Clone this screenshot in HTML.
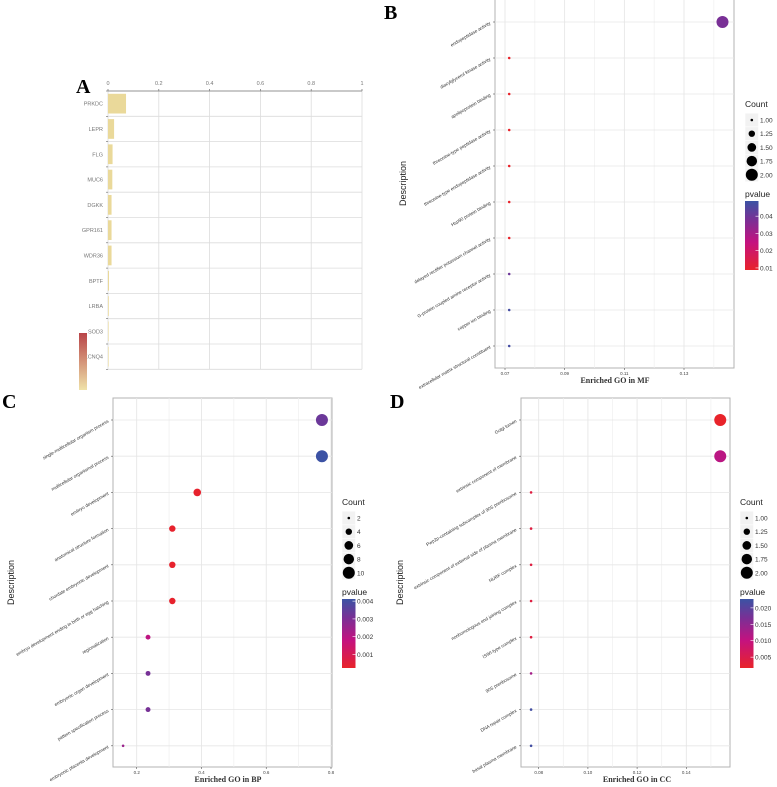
<!DOCTYPE html>
<html><head><meta charset="utf-8">
<style>
html,body{margin:0;padding:0;background:#fff;}
svg{display:block;font-family:"Liberation Sans",sans-serif;}
.pl{font-family:"Liberation Serif",serif;font-weight:bold;}
</style></head>
<body>
<svg id="fig" width="777" height="787" viewBox="0 0 777 787" xmlns="http://www.w3.org/2000/svg">
<defs>
<linearGradient id="pg" x1="0" y1="1" x2="0" y2="0">
<stop offset="0" stop-color="#e8232a"/><stop offset="0.4" stop-color="#c4127f"/><stop offset="0.72" stop-color="#7b2f95"/><stop offset="1" stop-color="#3b53a4"/>
</linearGradient>
<linearGradient id="ag" x1="0" y1="0" x2="0" y2="1">
<stop offset="0" stop-color="#b84448"/><stop offset="1" stop-color="#efe2a8"/>
</linearGradient>
</defs>
<text class="pl" x="76" y="93" font-size="20">A</text>
<text class="pl" x="384" y="19" font-size="20">B</text>
<text class="pl" x="2" y="408" font-size="20">C</text>
<text class="pl" x="390" y="408" font-size="20">D</text>
<g id="root"></g>
</svg>
<script>
const NS="http://www.w3.org/2000/svg";
// Panel A data
const aGenes=["PRKDC","LEPR","FLG","MUC6","DGKK","GPR161","WDR36","BPTF","LRBA","SOD3","KCNQ4"];
const aValues=[0.071,0.024,0.018,0.017,0.014,0.014,0.014,0.004,0.003,0.002,0.002];
const aTicks=[0,0.2,0.4,0.6,0.8,1];
// Panel B data
const bTerms=["endopeptidase activity","diacylglycerol kinase activity","apolipoprotein binding","threonine-type peptidase activity","threonine-type endopeptidase activity","Hsp90 protein binding","delayed rectifier potassium channel activity","G-protein coupled amine receptor activity","copper ion binding","extracellular matrix structural constituent"];
const bRatio=[0.1429,0.0714,0.0714,0.0714,0.0714,0.0714,0.0714,0.0714,0.0714,0.0714];
const bCount=[2,1,1,1,1,1,1,1,1,1];
const bP=[0.038,0.009,0.009,0.009,0.009,0.009,0.009,0.040,0.047,0.047];
const bTicks=[0.07,0.09,0.11,0.13];
const bTickLabels=["0.07","0.09","0.11","0.13"];
const bCountLeg=["1.00","1.25","1.50","1.75","2.00"];
const bPLeg=["0.04","0.03","0.02","0.01"];
// Panel C data
const cTerms=["single-multicellular organism process","multicellular organismal process","embryo development","anatomical structure formation","chordate embryonic development","embryo development ending in birth or egg hatching","regionalization","embryonic organ development","pattern specification process","embryonic placenta development"];
const cRatio=[0.772,0.772,0.387,0.31,0.31,0.31,0.235,0.235,0.235,0.158];
const cCount=[10,10,5,4,4,4,3,3,3,2];
const cP=[0.0033,0.0041,0.0003,0.0003,0.0003,0.0003,0.0019,0.0031,0.0031,0.0025];
const cTicks=[0.2,0.4,0.6,0.8];
const cTickLabels=["0.2","0.4","0.6","0.8"];
const cCountLeg=["2","4","6","8","10"];
const cPLeg=["0.004","0.003","0.002","0.001"];
// Panel D data
const dTerms=["Golgi lumen","extrinsic component of membrane","Pwp2p-containing subcomplex of 90S preribosome","extrinsic component of external side of plasma membrane","NURF complex","nonhomologous end joining complex","ISWI-type complex","90S preribosome","DNA repair complex","basal plasma membrane"];
const dRatio=[0.1538,0.1538,0.0769,0.0769,0.0769,0.0769,0.0769,0.0769,0.0769,0.0769];
const dCount=[2,2,1,1,1,1,1,1,1,1];
const dP=[0.0017,0.011,0.004,0.004,0.004,0.004,0.004,0.013,0.022,0.022];
const dTicks=[0.08,0.10,0.12,0.14];
const dTickLabels=["0.08","0.10","0.12","0.14"];
const dCountLeg=["1.00","1.25","1.50","1.75","2.00"];
const dPLeg=["0.020","0.015","0.010","0.005"];

const root=document.getElementById('root');
function mk(tag,attrs,parent){const e=document.createElementNS(NS,tag);for(const k in attrs)e.setAttribute(k,attrs[k]);(parent||root).appendChild(e);return e;}
function lerp(a,b,t){return a+(b-a)*t;}
const stops=[[0,[232,35,42]],[0.4,[196,18,127]],[0.72,[123,47,149]],[1,[59,83,164]]];
function pcol(t){t=Math.max(0,Math.min(1,t));for(let i=1;i<stops.length;i++){if(t<=stops[i][0]){const s=stops[i-1],e=stops[i];const u=(t-s[0])/(e[0]-s[0]);return 'rgb('+s[1].map((v,j)=>Math.round(lerp(v,e[1][j],u))).join(',')+')';}}return 'rgb(59,83,164)';}

// ---- Panel A ----
(function(){
const x0=108,x1=362,top=91,rh=25.3;
const xs=v=>x0+(x1-x0)*v;
const g=mk('g',{});


const n=aGenes.length,bot=top+rh*n;
aTicks.forEach(t=>{
 const l=mk('line',{x1:xs(t),x2:xs(t),y1:top,y2:bot,stroke:'#dcdcdc','stroke-width':0.8},g);
 
 
 const tx=mk('text',{x:xs(t),y:top-6,'font-size':5.5,fill:'#777','text-anchor':'middle'},g);
 
 
 tx.textContent=String(t);
 mk('line',{x1:xs(t),x2:xs(t),y1:top-2,y2:top,stroke:'#666','stroke-width':0.7},g);
});
for(let i=0;i<=n;i++){
 const y=top+rh*i;
 const l=mk('line',{x1:x0,x2:x1,y1:y,y2:y,stroke:'#dcdcdc','stroke-width':0.8},g);
 
 
 mk('line',{x1:x0-2,x2:x0,y1:y,y2:y,stroke:'#666','stroke-width':0.6},g);
}
const ax=mk('line',{x1:x0,x2:x1,y1:top,y2:top,stroke:'#777','stroke-width':0.8},g);


aGenes.forEach((gn,i)=>{
 const yc=top+rh*(i+0.5);
 const r=mk('rect',{x:x0,y:yc-rh*0.39,width:Math.max(0.6,xs(aValues[i])-x0),height:rh*0.78,fill:'#ead99a'},g);
 
 
 const t=mk('text',{x:x0-5,y:yc+2,'font-size':5.5,fill:'#777','text-anchor':'end'},g);
 
 
 t.textContent=gn;
});
const cb=mk('rect',{x:79,y:333,width:8,height:57,fill:'url(#ag)'},g);


})();

// ---- Dot plots ----
function dotplot(id,cfg){
const {L,R,T,B,y0,step,tmin,tmax,terms,ratio,count,pv,ticks,tickLabels,cmin,cmax,pmin,pmax,countLeg,pLeg,xlab,descX,legX,legY,xlabX}=cfg;
const g=mk('g',{});


const xs=v=>lerp(cfg.px0,cfg.px1,(v-tmin)/(tmax-tmin));
const bg=mk('rect',{x:L,y:T,width:R-L,height:B-T,fill:'#fff',stroke:'#b3b3b3','stroke-width':1},g);


const half=(ticks[1]-ticks[0])/2;
for(let v=ticks[0]-half;v<=ticks[ticks.length-1]+half*1.01;v+=half){
 const x=xs(v);if(x<L||x>R)continue;
 mk('line',{x1:x,x2:x,y1:T,y2:B,stroke:'#efefef','stroke-width':0.7},g);
}
ticks.forEach((v,i)=>{
 const x=xs(v);
 const l=mk('line',{x1:x,x2:x,y1:T,y2:B,stroke:'#e6e6e6','stroke-width':0.8},g);
 
 
 mk('line',{x1:x,x2:x,y1:B,y2:B+2,stroke:'#555','stroke-width':0.6},g);
 const t=mk('text',{x:x,y:B+7,'font-size':4.5,fill:'#444','text-anchor':'middle'},g);
 
 
 t.textContent=tickLabels[i];
});
const rmin=1.3,rmax=6;
terms.forEach((term,i)=>{
 const y=y0+step*i;
 const l=mk('line',{x1:L,x2:R,y1:y,y2:y,stroke:'#e6e6e6','stroke-width':0.8},g);
 
 
 mk('line',{x1:L-2,x2:L,y1:y,y2:y,stroke:'#555','stroke-width':0.6},g);
 const t=mk('text',{x:0,y:0,'font-size':4.6,fill:'#333','text-anchor':'end',transform:'translate('+(L-4)+','+(y+2)+') rotate(-30)'},g);
 
 
 t.textContent=term;
 const f=(count[i]-cmin)/(cmax-cmin);
 const r=Math.sqrt(rmin*rmin+f*(rmax*rmax-rmin*rmin));
 const c=mk('circle',{cx:xs(ratio[i]),cy:y,r:r,fill:pcol((pv[i]-pmin)/(pmax-pmin))},g);
 
 
});
const xl=mk('text',{x:xlabX,y:B+15,'font-size':8,'font-weight':'bold','font-family':'Liberation Serif, serif',fill:'#333','text-anchor':'middle'},g);


xl.textContent=xlab;
const yl=mk('text',{x:0,y:0,'font-size':9,fill:'#222','text-anchor':'middle',transform:'translate('+descX+','+((T+B)/2)+') rotate(-90)'},g);


yl.textContent='Description';
// legend
const ct=mk('text',{x:legX,y:legY,'font-size':8.5,fill:'#222'},g);


ct.textContent='Count';
countLeg.forEach((lab,i)=>{
 const yy=legY+13.7*i+13;
 mk('rect',{x:legX,y:yy-6.8,width:13.5,height:13.7,fill:'#f2f2f2',stroke:'#fff','stroke-width':0.5},g);
 const f=i/(countLeg.length-1);
 const c=mk('circle',{cx:legX+6.8,cy:yy,r:Math.sqrt(rmin*rmin+f*(rmax*rmax-rmin*rmin)),fill:'#000'},g);
 
 
 const t=mk('text',{x:legX+15,y:yy+2.5,'font-size':6.5,fill:'#333'},g);
 
 
 t.textContent=lab;
});
const py=legY+90;
const pt=mk('text',{x:legX,y:py,'font-size':8.5,fill:'#222'},g);


pt.textContent='pvalue';
const bar=mk('rect',{x:legX,y:py+4,width:13.5,height:69,fill:'url(#pg)'},g);


pLeg.forEach((lab,i)=>{
 const v=parseFloat(lab);
 const yy=py+4+69*(1-(v-pmin)/(pmax-pmin));
 mk('line',{x1:legX+10.5,x2:legX+13.5,y1:yy,y2:yy,stroke:'#fff','stroke-width':0.6},g);
 const t=mk('text',{x:legX+15,y:yy+2.5,'font-size':6.5,fill:'#333'},g);
 
 
 t.textContent=lab;
});
}
dotplot('b',{L:495,R:734,T:-1,B:368,y0:22,step:36,tmin:0.07,tmax:0.13,px0:505,px1:684,terms:bTerms,ratio:bRatio,count:bCount,pv:bP,ticks:bTicks,tickLabels:bTickLabels,cmin:1,cmax:2,pmin:0.0088,pmax:0.0488,countLeg:bCountLeg,pLeg:bPLeg,xlab:'Enriched GO in MF',descX:406,legX:745,legY:107,xlabX:615});
dotplot('c',{L:113,R:332,T:398,B:767,y0:420,step:36.2,tmin:0.2,tmax:0.8,px0:136.7,px1:331,terms:cTerms,ratio:cRatio,count:cCount,pv:cP,ticks:cTicks,tickLabels:cTickLabels,cmin:2,cmax:10,pmin:0.00024,pmax:0.00412,countLeg:cCountLeg,pLeg:cPLeg,xlab:'Enriched GO in BP',descX:14,legX:342,legY:505,xlabX:228});
dotplot('d',{L:521,R:730,T:398,B:767,y0:420,step:36.2,tmin:0.08,tmax:0.14,px0:538.7,px1:686.3,terms:dTerms,ratio:dRatio,count:dCount,pv:dP,ticks:dTicks,tickLabels:dTickLabels,cmin:1,cmax:2,pmin:0.0017,pmax:0.0227,countLeg:dCountLeg,pLeg:dPLeg,xlab:'Enriched GO in CC',descX:403,legX:740,legY:505,xlabX:637});
</script>
</body></html>
